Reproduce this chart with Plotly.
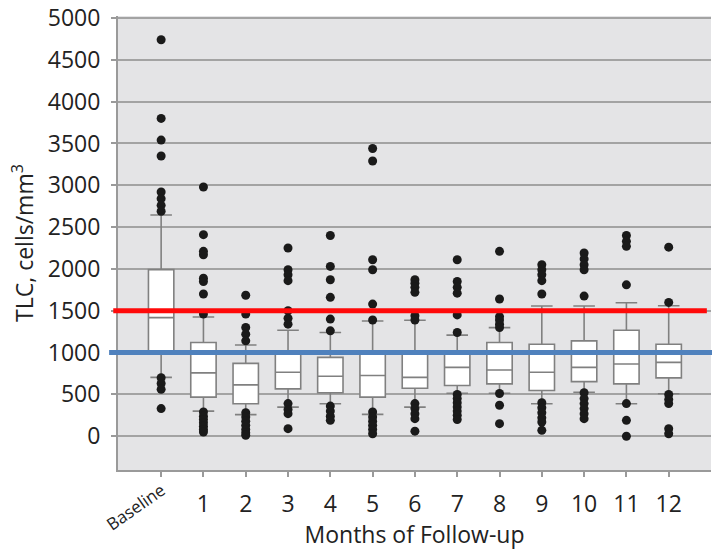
import plotly.graph_objects as go

# Follow-up time points (0 = baseline)
labels = ["Baseline", "1", "2", "3", "4", "5", "6", "7", "8", "9", "10", "11", "12"]
positions = list(range(len(labels)))

# Box statistics, TLC cells/mm3
q1 = [1013, 467, 388, 566, 519, 467, 574, 606, 626, 546, 653, 626, 697]
median = [1418, 757, 614, 764, 716, 725, 704, 823, 792, 764, 823, 863, 883]
q3 = [1992, 1120, 871, 982, 942, 1021, 1021, 1002, 1120, 1100, 1140, 1267, 1100]
lowerfence = [704, 300, 258, 348, 388, 261, 348, 514, 514, 388, 526, 388, 507]
upperfence = [2645, 1425, 1090, 1267, 1240, 1378, 1386, 1208, 1298, 1556, 1556, 1596, 1560]

# Outlying observations per time point
outliers = [
    [4740, 3800, 3540, 3350, 2920, 2840, 2760, 2690, 700, 630, 560, 330],
    [2980, 2410, 2210, 2170, 1890, 1850, 1700, 1460, 290, 240, 200, 160, 120, 80, 50],
    [1685, 1460, 1300, 1220, 1140, 280, 230, 180, 130, 80, 40, 10],
    [2250, 1990, 1930, 1860, 1500, 1410, 1340, 390, 320, 270, 90],
    [2400, 2030, 1870, 1660, 1400, 1260, 360, 300, 240, 190],
    [3440, 3290, 2110, 1990, 1580, 1390, 290, 230, 180, 130, 80, 30],
    [1870, 1830, 1780, 1720, 1440, 1390, 390, 330, 270, 210, 60],
    [2110, 1850, 1780, 1710, 1450, 1240, 500, 450, 400, 350, 300, 250, 200],
    [2210, 1640, 1430, 1390, 1340, 1300, 510, 370, 150],
    [2050, 1990, 1930, 1860, 1700, 400, 340, 280, 220, 170, 70],
    [2190, 2120, 2050, 1990, 1675, 520, 450, 390, 330, 270, 210],
    [2400, 2330, 2270, 1810, 390, 190, 0],
    [2260, 1600, 500, 440, 390, 90, 30],
]

# Reference thresholds
upper_threshold = 1500
lower_threshold = 1000

y_ticks = list(range(0, 5001, 500))

FONT = "Open Sans"
TEXT = "#222222"

fig = go.Figure()

fig.add_trace(go.Box(
    x=positions,
    q1=q1, median=median, q3=q3,
    lowerfence=lowerfence, upperfence=upperfence,
    fillcolor="white",
    line=dict(color="#808080", width=1.6),
    whiskerwidth=0.85,
    width=0.6,
    boxpoints=False,
    showlegend=False,
    hoverinfo="skip",
))

out_x = [p for p, vals in zip(positions, outliers) for _ in vals]
out_y = [v for vals in outliers for v in vals]
fig.add_trace(go.Scatter(
    x=out_x, y=out_y, mode="markers",
    marker=dict(color="#1a1a1a", size=9),
    showlegend=False, hoverinfo="skip",
))

fig.add_shape(type="line", xref="paper", yref="y",
              x0=-0.008, x1=0.993, y0=upper_threshold, y1=upper_threshold,
              line=dict(color="#ff0a0a", width=5), layer="above")
fig.add_shape(type="line", xref="paper", yref="y",
              x0=-0.015, x1=1.01, y0=lower_threshold, y1=lower_threshold,
              line=dict(color="#4f81bd", width=5), layer="above")

# Baseline tick label is drawn rotated; numeric months stay horizontal
fig.add_annotation(
    x=positions[0] - 0.6, xref="x", y=-0.08, yref="paper",
    text=labels[0], textangle=-35, showarrow=False,
    xanchor="center", yanchor="middle",
    font=dict(family=FONT, size=17, color=TEXT),
)

fig.update_layout(
    width=712, height=550,
    margin=dict(l=118, r=1, t=13, b=80),
    paper_bgcolor="white",
    plot_bgcolor="#e4e4e6",
    font=dict(family=FONT, color=TEXT),
    xaxis=dict(
        range=[-1.02, 13.0],
        tickmode="array", tickvals=positions,
        ticktext=[""] + labels[1:],
        ticks="outside", ticklen=5, tickcolor="#9a9a9a", tickwidth=1.5,
        tickfont=dict(family=FONT, size=23, color=TEXT),
        ticklabelstandoff=7,
        showgrid=False, zeroline=False,
        showline=True, linecolor="#9a9a9a", linewidth=2,
        title=dict(text="Months of Follow-up", standoff=11,
                   font=dict(family=FONT, size=23, color=TEXT)),
    ),
    yaxis=dict(
        range=[-404, 5024],
        tickmode="array", tickvals=y_ticks,
        ticks="outside", ticklen=5, tickcolor="#9a9a9a", tickwidth=1.5,
        tickfont=dict(family=FONT, size=23, color=TEXT),
        ticklabelstandoff=6,
        ticklabeloverflow="allow",
        showgrid=True, gridcolor="#a3a3a3", gridwidth=2,
        zeroline=False,
        showline=True, linecolor="#9a9a9a", linewidth=2,
        title=dict(text="TLC, cells/mm<sup>3</sup>", standoff=8,
                   font=dict(family=FONT, size=23, color=TEXT)),
    ),
)

fig.write_html("out.html")
